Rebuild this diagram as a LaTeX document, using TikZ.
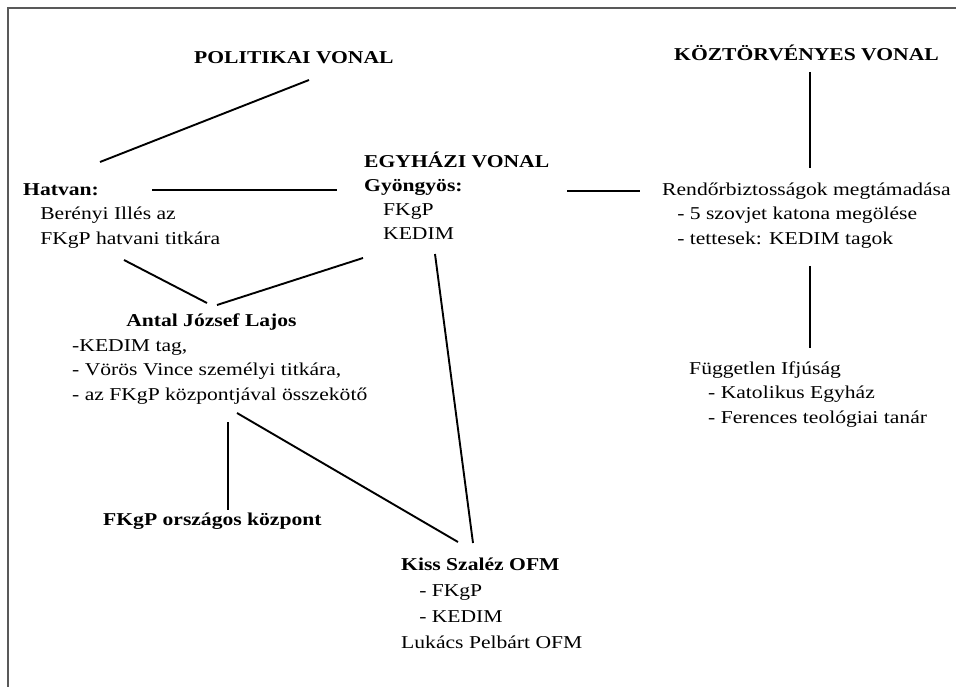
\documentclass[tikz,border=0pt]{standalone}
\usepackage{fontspec}
\setmainfont{Liberation Serif}
\begin{document}
\begin{tikzpicture}[x=1pt,y=-1pt,
    txt/.style={anchor=base west,inner sep=0pt,align=left,xscale=1.193,
      font=\fontsize{18.1}{24.5}\selectfont},
    link/.style={line width=1.9pt},
    frame/.style={line width=2pt,draw=black!65}]
  \useasboundingbox (0,0) rectangle (956,687);
  \draw[frame] (8,687) -- (8,8) -- (956,8);
  \draw
    (194,64) node[txt] (pol){\textbf{POLITIKAI VONAL}}
    (674,61) node[txt] (koz){\textbf{KÖZTÖRVÉNYES VONAL}}
    (364,240) node[txt,font=\fontsize{18.1}{24}\selectfont] (egy){\textbf{EGYHÁZI VONAL}\\\textbf{Gyöngyös:}\\
      \hspace*{15.9pt}FKgP\\\hspace*{15.9pt}KEDIM}
    (23,244) node[txt] (hatvan){\textbf{Hatvan:}\\\hspace*{14.3pt}Berényi Illés az\\
      \hspace*{14.3pt}FKgP hatvani titkára}
    (662,244) node[txt] (rendor){Rendőrbiztosságok megtámadása\\
      \hspace*{12.6pt}- 5 szovjet katona megölése\\\hspace*{12.6pt}- tettesek: KEDIM tagok}
    (689,423) node[txt] (fuggetlen){Független Ifjúság\\
      \hspace*{15.9pt}- Katolikus Egyház\\\hspace*{15.9pt}- Ferences teológiai tanár}
    (72,400) node[txt] (antal){\hspace*{45.3pt}\textbf{Antal József Lajos}\\-KEDIM tag,\\
      - Vörös Vince személyi titkára,\\- az FKgP központjával összekötő}
    (103,525) node[txt] (orszagos){\textbf{FKgP országos központ}}
    (401,648) node[txt,font=\fontsize{18.1}{25.7}\selectfont] (kiss){\textbf{Kiss Szaléz OFM}\\
      \hspace*{15.1pt}- FKgP\\\hspace*{15.1pt}- KEDIM\\Lukács Pelbárt OFM};
  \coordinate (pol-s) at (309,80);
  \coordinate (hatvan-n) at (100,162);
  \coordinate (hatvan-e) at (152,190);
  \coordinate (egy-w) at (337,190);
  \coordinate (egy-e) at (567,191);
  \coordinate (rendor-w) at (640,191);
  \coordinate (koz-s) at (810,72);
  \coordinate (rendor-n) at (810,168);
  \coordinate (rendor-s) at (810,266);
  \coordinate (fuggetlen-n) at (810,348);
  \coordinate (hatvan-s) at (124,260);
  \coordinate (antal-nw) at (207,303);
  \coordinate (egy-sw) at (363,258);
  \coordinate (antal-ne) at (217,305);
  \coordinate (egy-s) at (435,254);
  \coordinate (kiss-ne) at (473,543);
  \coordinate (antal-s) at (228,422);
  \coordinate (orszagos-n) at (228,510);
  \coordinate (antal-se) at (237,413);
  \coordinate (kiss-nw) at (458,542);
  \begin{scope}[link]
    \draw (pol-s) to (hatvan-n);
    \draw (hatvan-e) to (egy-w);
    \draw (egy-e) to (rendor-w);
    \draw (koz-s) to (rendor-n);
    \draw (rendor-s) to (fuggetlen-n);
    \draw (hatvan-s) to (antal-nw);
    \draw (egy-sw) to (antal-ne);
    \draw (egy-s) to (kiss-ne);
    \draw (antal-s) to (orszagos-n);
    \draw (antal-se) to (kiss-nw);
  \end{scope}
\end{tikzpicture}
\end{document}
